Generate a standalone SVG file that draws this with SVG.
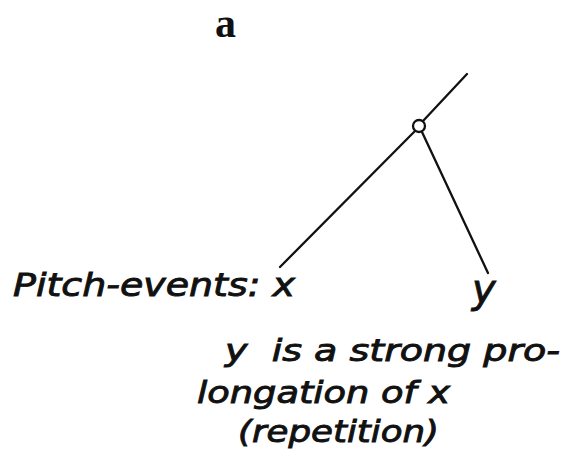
<svg xmlns="http://www.w3.org/2000/svg" width="567" height="458" viewBox="0 0 567 458">
<style>
.hand{font-family:"DejaVu Sans","Liberation Sans",sans-serif;font-style:italic;font-size:30px;fill:#111;stroke:#111;stroke-width:0.9}
.edge{stroke:#111;stroke-width:2.3;fill:none;stroke-linecap:round}
</style>
<rect width="567" height="458" fill="#fff"/>
<text x="215" y="37" font-family="Liberation Serif,serif" font-weight="bold" font-size="42" fill="#111">a</text>
<g id="connectors">
<line class="edge" x1="467" y1="74" x2="423" y2="121"/>
<line class="edge" x1="415" y1="131" x2="280" y2="267"/>
<line class="edge" x1="422" y1="132" x2="488" y2="273"/>
</g>
<g id="node-root">
<circle cx="419" cy="126" r="6" fill="#fff" stroke="#111" stroke-width="2.3"/>
</g>
<g id="node-x">
<text class="hand" x="13" y="296" textLength="282" lengthAdjust="spacingAndGlyphs" style="font-size:32px">Pitch-events: x</text>
</g>
<g id="node-y">
<text class="hand" x="472" y="303" style="font-size:40px">y</text>
</g>
<g id="caption">
<text class="hand" x="225" y="361" textLength="335" lengthAdjust="spacingAndGlyphs">y&#160; is a strong pro-</text>
<text class="hand" x="197" y="403" textLength="253" lengthAdjust="spacingAndGlyphs">longation of x</text>
<text class="hand" x="238" y="442" textLength="201" lengthAdjust="spacingAndGlyphs">(repetition)</text>
</g>
</svg>
